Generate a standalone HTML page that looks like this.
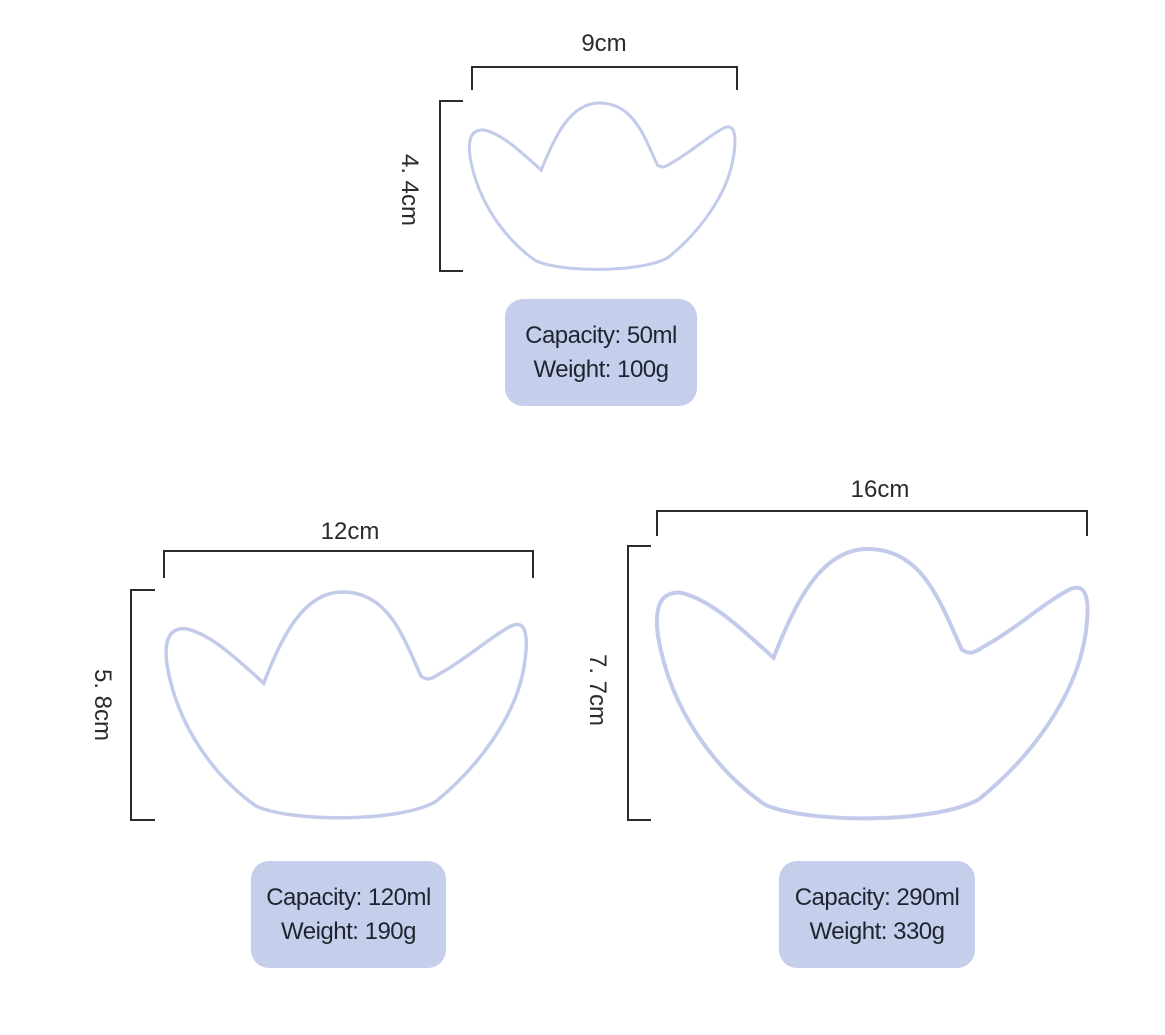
<!DOCTYPE html>
<html><head><meta charset="utf-8"><style>
html,body{margin:0;padding:0;background:#fff;}
body{width:1165px;height:1035px;position:relative;overflow:hidden;font-family:"Liberation Sans",sans-serif;}
.box{position:absolute;background:#c5cfeb;border-radius:18px;color:#1e2530;font-size:24px;line-height:34px;text-align:center;display:flex;flex-direction:column;justify-content:center;letter-spacing:-0.5px;}
</style></head><body>
<svg width="1165" height="1035" style="position:absolute;left:0;top:0">
<g fill="none" stroke="#2b2b2b" stroke-width="2">
<path d="M472,90 V67 H737 V90"/>
<path d="M463,101 H440 V271 H463"/>
<path d="M164,578 V551 H533 V578"/>
<path d="M155,590 H131 V820 H155"/>
<path d="M657,536 V511 H1087 V536"/>
<path d="M651,546 H628 V820 H651"/>
</g>
<svg x="470" y="103" width="264" height="168" viewBox="0 0 100 100" preserveAspectRatio="none" overflow="visible"><path vector-effect="non-scaling-stroke" fill="none" stroke="#c3cbea" stroke-width="3" d="M27,40 C32,20 38,0 49,0 C62,0 66,20 71,37 C73,39 74,38 76,36 C84,29 90,20 96,15 C100,12 101,18 100,30 C98,55 86,78 75,92 C65,101 35,101 25,94 C14,82 3,60 0,32 C-1,20 1,16 5,16 C12,18 20,30 27,40 Z"/></svg>
<svg x="167" y="592" width="358" height="228" viewBox="0 0 100 100" preserveAspectRatio="none" overflow="visible"><path vector-effect="non-scaling-stroke" fill="none" stroke="#c3cbea" stroke-width="3.5" d="M27,40 C32,20 38,0 49,0 C62,0 66,20 71,37 C73,39 74,38 76,36 C84,29 90,20 96,15 C100,12 101,18 100,30 C98,55 86,78 75,92 C65,101 35,101 25,94 C14,82 3,60 0,32 C-1,20 1,16 5,16 C12,18 20,30 27,40 Z"/></svg>
<svg x="658" y="549" width="428" height="272" viewBox="0 0 100 100" preserveAspectRatio="none" overflow="visible"><path vector-effect="non-scaling-stroke" fill="none" stroke="#c3cbea" stroke-width="4" d="M27,40 C32,20 38,0 49,0 C62,0 66,20 71,37 C73,39 74,38 76,36 C84,29 90,20 96,15 C100,12 101,18 100,30 C98,55 86,78 75,92 C65,101 35,101 25,94 C14,82 3,60 0,32 C-1,20 1,16 5,16 C12,18 20,30 27,40 Z"/></svg>
<g font-family="Liberation Sans, sans-serif" font-size="24" fill="#2b2b2b" text-anchor="middle">
<text x="604" y="51">9cm</text>
<text x="350" y="539">12cm</text>
<text x="880" y="497">16cm</text>
<text transform="translate(402,190) rotate(90)">4. 4cm</text>
<text transform="translate(95,705) rotate(90)">5. 8cm</text>
<text transform="translate(590,690) rotate(90)">7. 7cm</text>
</g>
</svg>
<div class="box" style="left:505px;top:299px;width:192px;height:107px;">Capacity: 50ml<br>Weight: 100g</div>
<div class="box" style="left:251px;top:861px;width:195px;height:107px;">Capacity: 120ml<br>Weight: 190g</div>
<div class="box" style="left:779px;top:861px;width:196px;height:107px;">Capacity: 290ml<br>Weight: 330g</div>
</body></html>
